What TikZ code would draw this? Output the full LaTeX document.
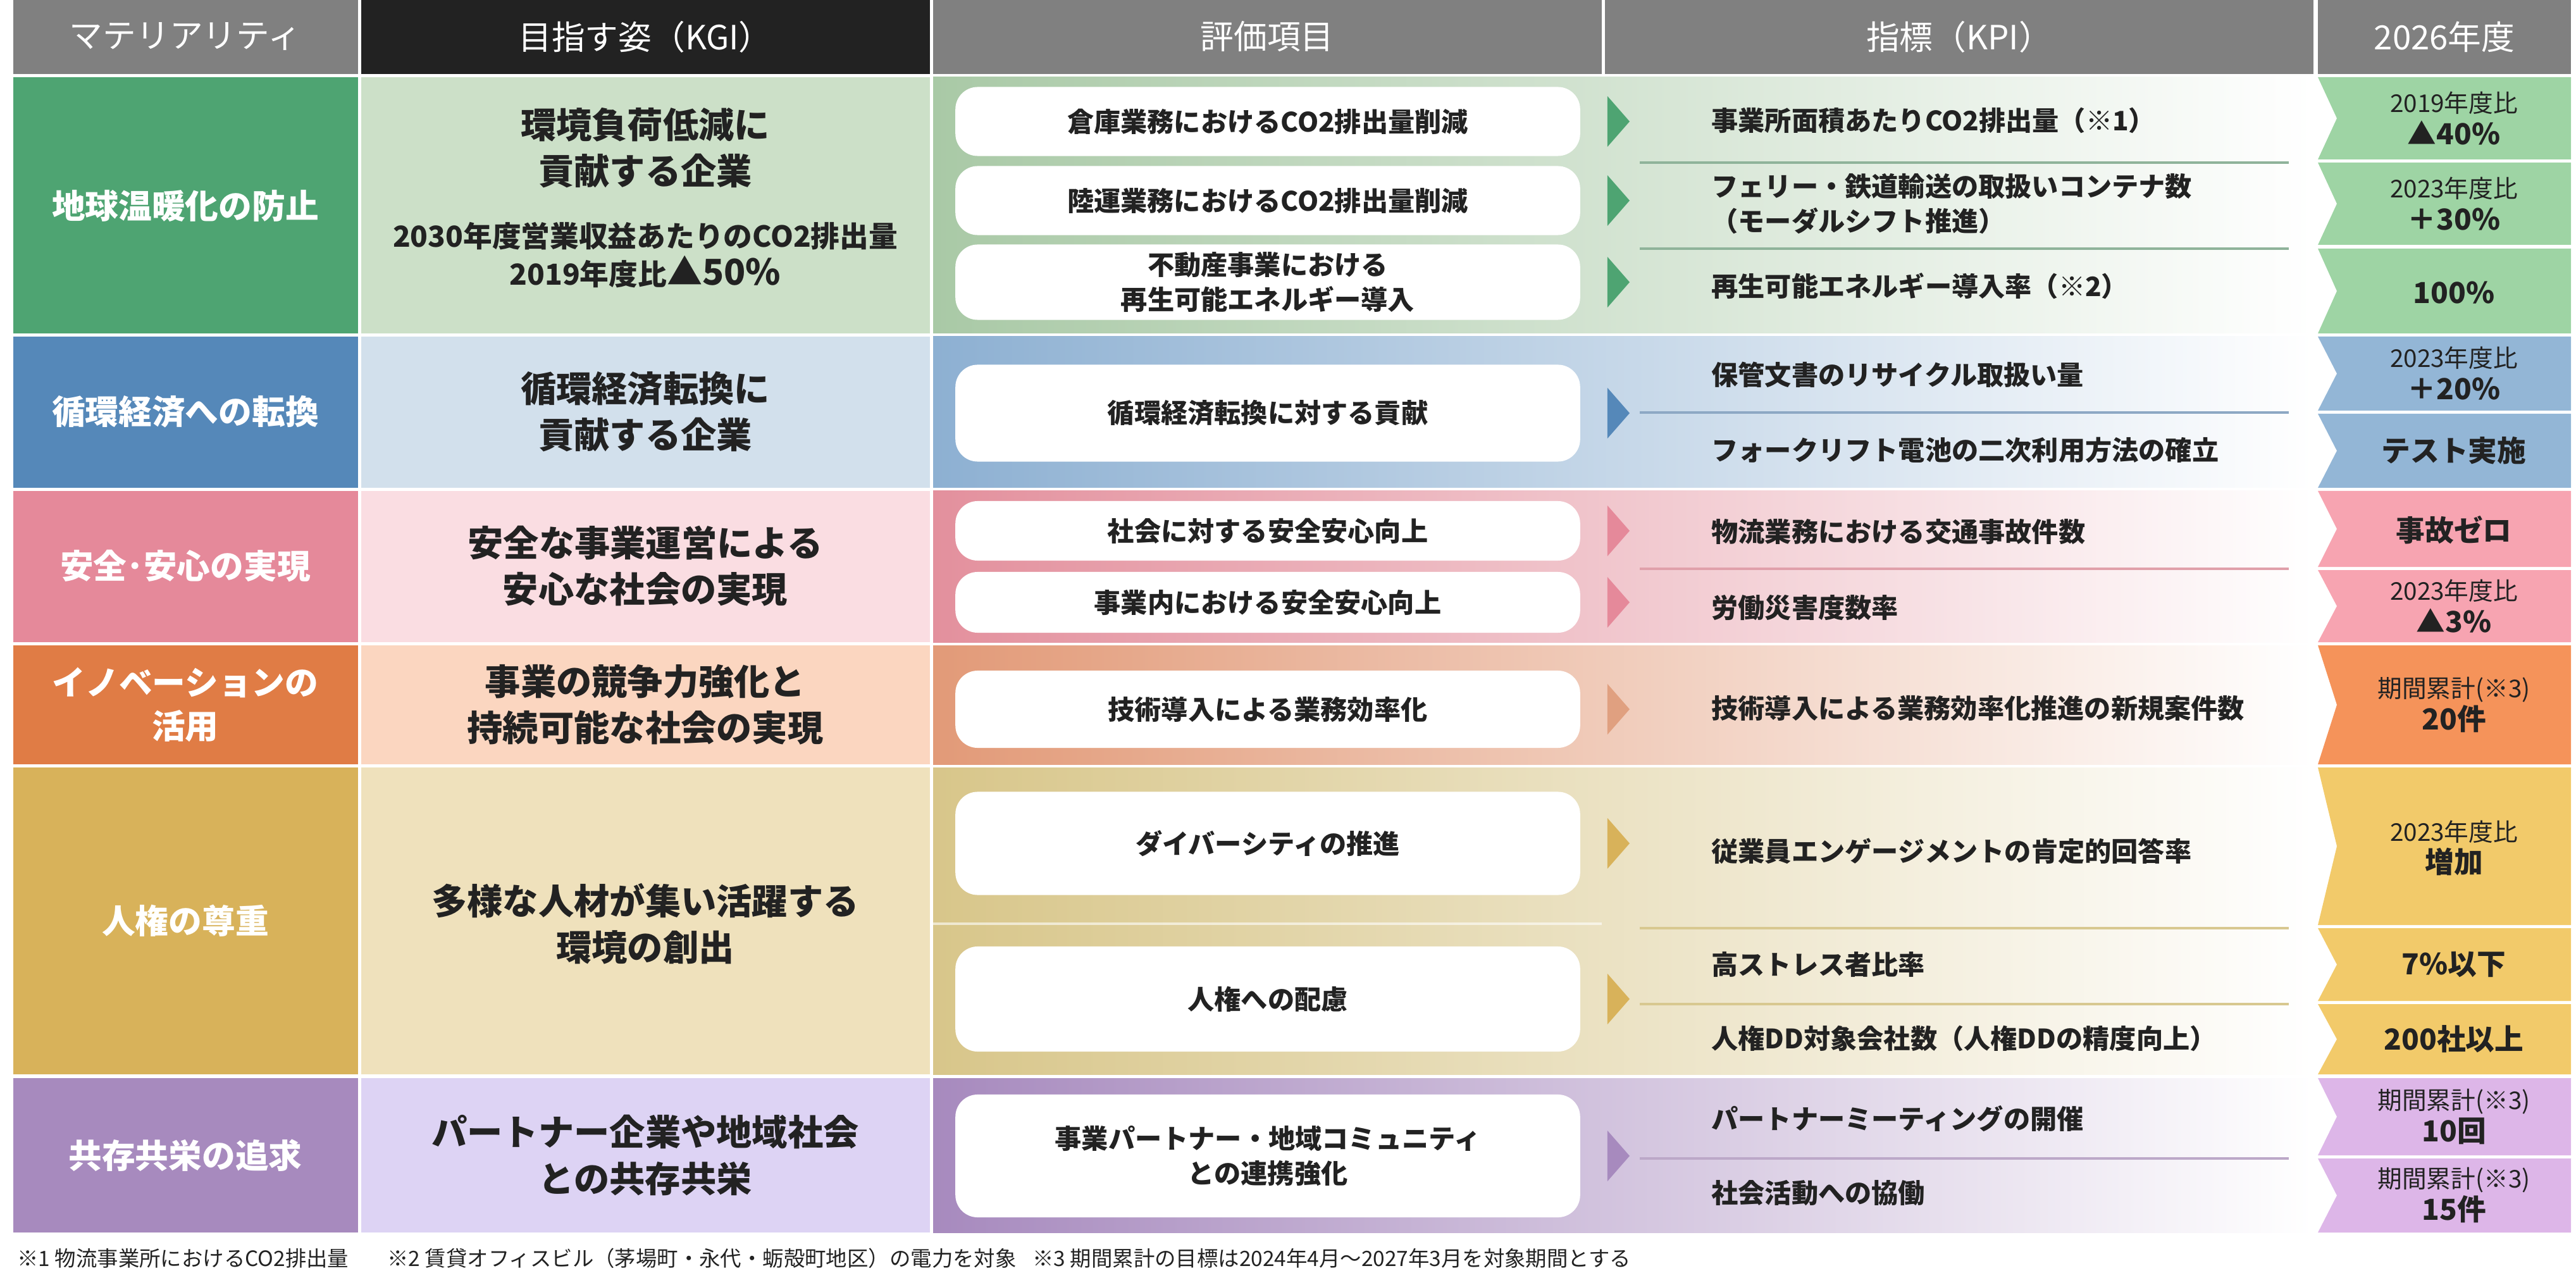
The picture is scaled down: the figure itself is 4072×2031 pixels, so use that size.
\documentclass[tikz,border=0pt]{standalone}
\usepackage{fontspec}
\setmainfont{Noto Sans CJK JP}
\usetikzlibrary{shapes.geometric,positioning}

\definecolor{hdrgray}{HTML}{808080}
\definecolor{hdrdark}{HTML}{222222}
\definecolor{txt}{HTML}{222222}
% row colours: material / goal / gradient start / target / rule
\definecolor{aA}{HTML}{4EA472}\definecolor{aB}{HTML}{CCE0C8}\definecolor{aC}{HTML}{A9C9A6}\definecolor{aD}{HTML}{9ED4A4}\definecolor{aE}{HTML}{8FB39A}
\definecolor{bA}{HTML}{5588B9}\definecolor{bB}{HTML}{D2E0EC}\definecolor{bC}{HTML}{8DB0D2}\definecolor{bD}{HTML}{93B6D6}\definecolor{bE}{HTML}{8DA8C4}
\definecolor{cA}{HTML}{E5899A}\definecolor{cB}{HTML}{FADDE2}\definecolor{cC}{HTML}{E3909D}\definecolor{cD}{HTML}{F7A4B1}\definecolor{cE}{HTML}{E0A0AA}
\definecolor{dA}{HTML}{E07C45}\definecolor{dB}{HTML}{FBD6C0}\definecolor{dC}{HTML}{E29A78}\definecolor{dD}{HTML}{F5935A}\definecolor{dE}{HTML}{E0A080}
\definecolor{eA}{HTML}{D8B25A}\definecolor{eB}{HTML}{EFE1BC}\definecolor{eC}{HTML}{D8C68A}\definecolor{eD}{HTML}{F2CA6A}\definecolor{eE}{HTML}{D8C890}
\definecolor{fA}{HTML}{A78ABE}\definecolor{fB}{HTML}{DDD3F4}\definecolor{fC}{HTML}{A78ABE}\definecolor{fD}{HTML}{DDB6E8}\definecolor{fE}{HTML}{BCA8C8}

\newcommand{\fs}[1]{\fontsize{#1}{\dimexpr #1pt*13/10\relax}\selectfont}

\begin{document}
\begin{tikzpicture}[x=0.01cm, y=-0.01cm,
        hdr/.style={text=white, font=\fs{15}},
        mat/.style={text=white, font=\fs{15}\bfseries, align=center},
        kgi/.style={text=txt, font=\fs{16}\bfseries, align=center},
        evbox/.style={fill=white, rounded corners=10pt, minimum width=9.87cm, text=txt, font=\fs{12}\bfseries, align=center, inner sep=0},
        kpi/.style={anchor=west, text=txt, font=\fs{12}\bfseries, align=left},
        tgt/.style={text=txt, font=\fs{11}, align=center},
        big/.style={font=\fs{13}\bfseries},
        tri/.style={isosceles triangle, isosceles triangle stretches, shape border rotate=0, minimum width=0.8cm, minimum height=0.35cm, inner sep=0},
        note/.style={anchor=west, text=txt, font=\fs{9.5}}
    ]
        \useasboundingbox (0,0) rectangle (4072,2031);

        % Header
        \fill[hdrgray] (21,0) rectangle (566,117);
        \fill[hdrdark] (571,0) rectangle (1470,117);
        \fill[hdrgray] (1475,0) rectangle (2532,117);
        \fill[hdrgray] (2537,0) rectangle (3657,117);
        \fill[hdrgray] (3664,0) rectangle (4064,117);
        \node[hdr] (h1) at (293,58) {マテリアリティ};
        \node[hdr] (h2) at (1020,58) {目指す姿（KGI）};
        \node[hdr] (h3) at (2003,58) {評価項目};
        \node[hdr] (h4) at (3097,58) {指標（KPI）};
        \node[hdr] (h5) at (3864,58) {2026年度};

        % Row backgrounds
        \foreach \t/\b/\r in {122/527/a, 532/771/b, 776/1015/c, 1020/1208/d, 1213/1698/e, 1704/1948/f}{
            \fill[\r A] (21,\t) rectangle (566,\b);
            \fill[\r B] (571,\t) rectangle (1470,\b);
            \shade[left color=\r C, right color=white] (1475,\t) rectangle (3657,\b);
        }

        % Target cells
        \foreach \t/\b/\r in {122/252/a, 257/387/a, 393/527/a, 532/649/b, 654/771/b, 776/896/c, 901/1015/c,
                1020/1208/d, 1213/1462/e, 1467/1582/e, 1587/1698/e, 1704/1826/f, 1831/1948/f}{
            \fill[\r D] (3664,\t) -- (3694,{(\t+\b)/2}) -- (3664,\b) -- (4064,\b) -- (4064,\t) -- cycle;
        }

        % KPI rules
        \foreach \y/\r in {257/a, 393/a, 652/b, 899/c, 1467/e, 1587/e, 1831/f}{
            \draw[\r E, line width=1.4pt] (2592,\y) -- (3618,\y);
        }
        \draw[white, opacity=.6, line width=1.2pt] (1475,1460) -- (2532,1460);

        % Materiality
        \node[mat] (m1) at (293,325) {地球温暖化の防止};
        \node[mat] (m2) at (293,651) {循環経済への転換};
        \node[mat] (m3) at (293,895) {安全･安心の実現};
        \node[mat] (m4) at (293,1114) {イノベーションの\\活用};
        \node[mat] (m5) at (293,1455) {人権の尊重};
        \node[mat] (m6) at (293,1826) {共存共栄の追求};

        % Goals
        \node[kgi] (g1) at (1020,234) {環境負荷低減に\\貢献する企業};
        \node[kgi, font=\fs{13}\bfseries] (g1b) at (1020,403) {2030年度営業収益あたりのCO2排出量\\2019年度比{\fs{16}▲50\%}};
        \node[kgi] (g2) at (1020,651) {循環経済転換に\\貢献する企業};
        \node[kgi] (g3) at (1020,895) {安全な事業運営による\\安心な社会の実現};
        \node[kgi] (g4) at (1020,1114) {事業の競争力強化と\\持続可能な社会の実現};
        \node[kgi] (g5) at (1020,1460) {多様な人材が集い活躍する\\環境の創出};
        \node[kgi] (g6) at (1020,1826) {パートナー企業や地域社会\\との共存共栄};

        % Evaluation items
        \node[evbox, minimum height=1.09cm] (e1) at (2004,192) {倉庫業務におけるCO2排出量削減};
        \node[evbox, minimum height=1.09cm] (e2) at (2004,317) {陸運業務におけるCO2排出量削減};
        \node[evbox, minimum height=1.19cm] (e3) at (2004,446) {不動産事業における\\再生可能エネルギー導入};
        \node[evbox, minimum height=1.53cm] (e4) at (2004,653) {循環経済転換に対する貢献};
        \node[evbox, minimum height=0.94cm] (e5) at (2004,839) {社会に対する安全安心向上};
        \node[evbox, minimum height=0.96cm] (e6) at (2004,952) {事業内における安全安心向上};
        \node[evbox, minimum height=1.22cm] (e7) at (2004,1121) {技術導入による業務効率化};
        \node[evbox, minimum height=1.63cm] (e8) at (2004,1333) {ダイバーシティの推進};
        \node[evbox, minimum height=1.66cm] (e9) at (2004,1579) {人権への配慮};
        \node[evbox, minimum height=1.94cm] (e10) at (2004,1827) {事業パートナー・地域コミュニティ\\との連携強化};

        % Pointers
        \foreach \y/\c in {192/aA, 317/aA, 446/aA, 653/bA, 839/cA, 952/cA, 1121/dE, 1333/eA, 1579/eA, 1827/fA}{
            \node[tri, fill=\c] at (2556,\y) {};
        }

        % KPIs
        \node[kpi] (k1) at (2693,190) {事業所面積あたりCO2排出量（※1）};
        \node[kpi] (k2) at (2693,322) {フェリー・鉄道輸送の取扱いコンテナ数\\（モーダルシフト推進）};
        \node[kpi] (k3) at (2693,452) {再生可能エネルギー導入率（※2）};
        \node[kpi] (k4) at (2693,592) {保管文書のリサイクル取扱い量};
        \node[kpi] (k5) at (2693,712) {フォークリフト電池の二次利用方法の確立};
        \node[kpi] (k6) at (2693,841) {物流業務における交通事故件数};
        \node[kpi] (k7) at (2693,961) {労働災害度数率};
        \node[kpi] (k8) at (2693,1119) {技術導入による業務効率化推進の新規案件数};
        \node[kpi] (k9) at (2693,1345) {従業員エンゲージメントの肯定的回答率};
        \node[kpi] (k10) at (2693,1524) {高ストレス者比率};
        \node[kpi] (k11) at (2693,1641) {人権DD対象会社数（人権DDの精度向上）};
        \node[kpi] (k12) at (2693,1768) {パートナーミーティングの開催};
        \node[kpi] (k13) at (2693,1886) {社会活動への協働};

        % Targets
        \node[tgt] (t1) at (3879,187) {2019年度比\\{\bfseries\fs{13}▲40\%}};
        \node[tgt] (t2) at (3879,322) {2023年度比\\{\bfseries\fs{13}＋30\%}};
        \node[tgt, big] (t3) at (3879,462) {100\%};
        \node[tgt] (t4) at (3879,590) {2023年度比\\{\bfseries\fs{13}＋20\%}};
        \node[tgt, big] (t5) at (3879,712) {テスト実施};
        \node[tgt, big] (t6) at (3879,838) {事故ゼロ};
        \node[tgt] (t7) at (3879,958) {2023年度比\\{\bfseries\fs{13}▲3\%}};
        \node[tgt] (t8) at (3879,1114) {期間累計(※3)\\{\bfseries\fs{13}20件}};
        \node[tgt] (t9) at (3879,1340) {2023年度比\\{\bfseries\fs{13}増加}};
        \node[tgt, big] (t10) at (3879,1524) {7\%以下};
        \node[tgt, big] (t11) at (3879,1642) {200社以上};
        \node[tgt] (t12) at (3879,1765) {期間累計(※3)\\{\bfseries\fs{13}10回}};
        \node[tgt] (t13) at (3879,1889) {期間累計(※3)\\{\bfseries\fs{13}15件}};

        % Notes
        \node[note] (n1) at (15,1989) {※1 物流事業所におけるCO2排出量};
        \node[note] (n2) at (600,1989) {※2 賃貸オフィスビル（茅場町・永代・蛎殻町地区）の電力を対象};
        \node[note] (n3) at (1620,1989) {※3 期間累計の目標は2024年4月～2027年3月を対象期間とする};
    \end{tikzpicture}
\end{document}
